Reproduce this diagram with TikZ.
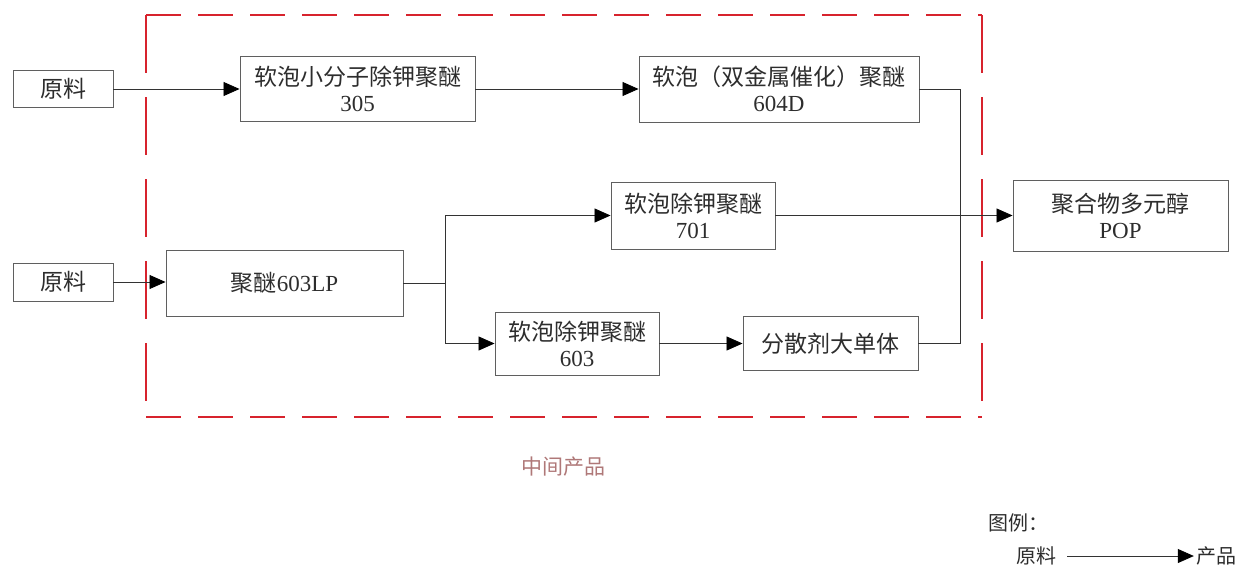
\documentclass[tikz,border=0pt]{standalone}
\usepackage{fontspec}
\setmainfont{Liberation Serif}
\newfontfamily\cjk{Noto Sans CJK SC}
\usetikzlibrary{arrows.meta}
\definecolor{boxline}{RGB}{95,95,95}
\definecolor{txt}{RGB}{45,45,45}
\definecolor{dashred}{RGB}{215,35,45}
\definecolor{midlbl}{RGB}{175,120,120}
\tikzset{
  blk/.style={draw=boxline, line width=0.9pt, text=txt, align=center, inner sep=0pt,
    font=\fontsize{23}{26}\selectfont},
  conn/.style={draw=black!80, line width=0.8pt},
  arr/.style={conn, -{Triangle[length=16pt,width=14pt,fill=black,color=black]}},
  hdash/.style={draw=dashred, line width=2.6pt, dash pattern=on 35pt off 17pt},
  vdash/.style={draw=dashred, line width=2.6pt, dash pattern=on 58pt off 24pt},
  lbl/.style={text=txt, font=\fontsize{20}{22}\selectfont\cjk, inner sep=2pt},
}
\begin{document}
\begin{tikzpicture}[x=1pt,y=-1pt]
\useasboundingbox (0,0) rectangle (1242,570);
% dashed region
\coordinate (dTL) at (146,15);
\coordinate (dTR) at (982,15);
\coordinate (dBL) at (146,417);
\coordinate (dBR) at (982,417);
\draw[hdash] (dTL) -- (dTR);
\draw[hdash] (dBL) -- (dBR);
\draw[vdash] (dTL) -- (dBL);
\draw[vdash] (dTR) -- (dBR);
% nodes
\node[blk, minimum width=100pt, minimum height=37pt] (r1) at (63,89) {\cjk 原料};
\node[blk, minimum width=235pt, minimum height=65pt] (n305) at (357.5,89) {{\cjk 软泡小分子除钾聚醚}\\305};
\node[blk, minimum width=280pt, minimum height=66pt] (n604) at (779,89) {{\cjk 软泡（双金属催化）聚醚}\\604D};
\node[blk, minimum width=164pt, minimum height=67pt] (n701) at (693,215.5) {{\cjk 软泡除钾聚醚}\\701};
\node[blk, minimum width=215pt, minimum height=71pt] (pop) at (1120.5,215.5) {{\cjk 聚合物多元醇}\\POP};
\node[blk, minimum width=100pt, minimum height=38pt] (r2) at (63,282) {\cjk 原料};
\node[blk, minimum width=237pt, minimum height=66pt] (lp) at (284.5,283) {{\cjk 聚醚}603LP};
\node[blk, minimum width=164pt, minimum height=63pt] (n603) at (577,343.5) {{\cjk 软泡除钾聚醚}\\603};
\node[blk, minimum width=175pt, minimum height=54pt] (disp) at (830.5,343.5) {\cjk 分散剂大单体};
% junctions
\coordinate (j1) at (960,89);
\coordinate (j2) at (445,283);
% connectors
\draw[arr] (r1.east) -- (n305.west);
\draw[arr] (n305.east) -- (n604.west);
\draw[conn] (n604.east) -- (j1) |- (disp.east);
\draw[arr] (n701.east) -- (pop.west);
\draw[arr] (r2.east) -- (r2.east -| lp.west);
\draw[conn] (lp.east) -- (j2);
\draw[arr] (j2) |- (n701.west);
\draw[arr] (j2) |- (n603.west);
\draw[arr] (n603.east) -- (disp.west);
% label of region
\node[text=midlbl, font=\fontsize{21}{23}\selectfont\cjk] (mid) at (563,467) {中间产品};
% legend
\node[lbl, anchor=west] (legT) at (986,523) {图例：};
\node[lbl] (legA) at (1036,556) {原料};
\node[lbl] (legB) at (1216,556) {产品};
\coordinate (la) at (1067,556);
\draw[arr] (la) -- (legB.west);
\end{tikzpicture}
\end{document}
